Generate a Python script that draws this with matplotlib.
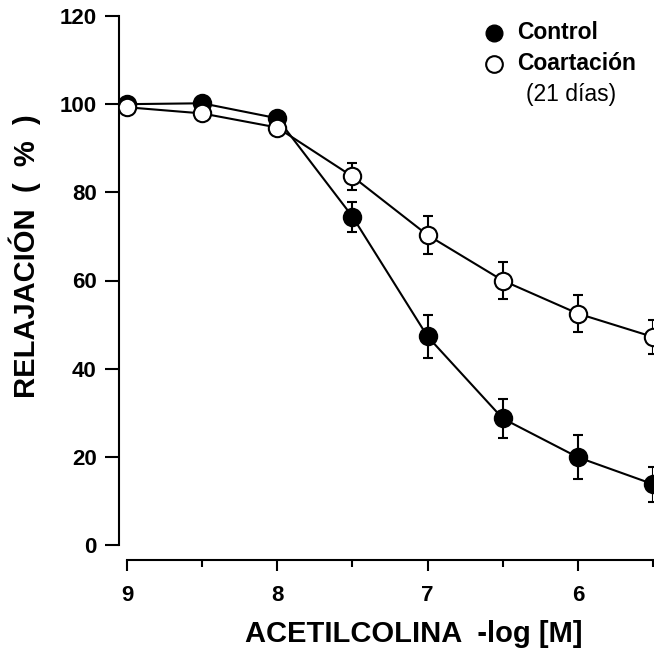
import matplotlib
matplotlib.use("Agg")
import matplotlib.pyplot as plt
import numpy as np

# -log [M] de acetilcolina
dosis = [9.0, 8.5, 8.0, 7.5, 7.0, 6.5, 6.0, 5.5]

# relajacion (%) media y error estandar
control = [100.0, 100.2, 96.8, 74.5, 47.3, 28.7, 19.9, 13.8]
control_se = [0.0, 0.0, 0.0, 3.4, 4.9, 4.5, 5.0, 4.0]
coart = [99.3, 97.9, 94.7, 83.6, 70.3, 60.0, 52.5, 47.2]
coart_se = [0.0, 0.0, 0.0, 3.1, 4.4, 4.2, 4.1, 3.8]

yticks = [0, 20, 40, 60, 80, 100, 120]
xticks = [9, 8, 7, 6]
xminor = [8.5, 7.5, 6.5, 5.5]

plt.rcParams["font.family"] = ["Liberation Sans", "DejaVu Sans"]
plt.rcParams["font.weight"] = "bold"

fig = plt.figure(figsize=(6.54, 6.58), dpi=100)
ax = fig.add_axes([119 / 654, 113 / 658, (653 - 119) / 654, (545 - 16) / 658])

ax.errorbar(dosis, control, yerr=control_se, fmt="none", ecolor="black",
            elinewidth=1.5, capsize=3.8, capthick=1.5, zorder=2)
ax.errorbar(dosis, coart, yerr=coart_se, fmt="none", ecolor="black",
            elinewidth=1.5, capsize=3.8, capthick=1.5, zorder=2)
ax.plot(dosis, control, color="black", lw=1.5, marker="o", ms=12.5,
        mfc="black", mec="black", mew=1.5, zorder=3)
ax.plot(dosis, coart, color="black", lw=1.5, marker="o", ms=12.5,
        mfc="white", mec="black", mew=1.5, zorder=4)

ax.set_xlim(9.0 + 8 / 150, 5.5)
ax.set_ylim(0, 120)

for s in ("top", "right"):
    ax.spines[s].set_visible(False)
ax.spines["bottom"].set_position(("outward", 11))
ax.spines["bottom"].set_bounds(9, 5.5)
ax.spines["left"].set_bounds(0, 120)
for s in ("bottom", "left"):
    ax.spines[s].set_linewidth(1.5)

ax.set_yticks(yticks)
ax.set_xticks(xticks)
ax.set_xticks(xminor, minor=True)
ax.tick_params(axis="y", direction="out", length=10, width=1.5, pad=6,
               labelsize=16)
ax.tick_params(axis="x", which="major", direction="out", length=8, width=1.5,
               pad=10, labelsize=16)
ax.tick_params(axis="x", which="minor", direction="out", length=5, width=1.5)

ax.set_xlabel("ACETILCOLINA  -log [M]", fontsize=21, fontweight="bold")
ax.xaxis.set_label_coords(0.552, -0.142)
ax.set_ylabel("RELAJACIÓN  (  %  )", fontsize=21, fontweight="bold")
ax.yaxis.set_label_coords(-0.147, 0.546)

# leyenda a mano (el texto "(21 días)" va sangrado debajo)
ax.plot([0.702], [0.968], transform=ax.transAxes, marker="o", ms=12,
        mfc="black", mec="black", clip_on=False)
ax.plot([0.702], [0.910], transform=ax.transAxes, marker="o", ms=12,
        mfc="white", mec="black", mew=1.5, clip_on=False)
ax.text(0.745, 0.968, "Control", transform=ax.transAxes, fontsize=16.5,
        fontweight="bold", va="center", ha="left")
ax.text(0.745, 0.910, "Coartación", transform=ax.transAxes, fontsize=16.5,
        fontweight="bold", va="center", ha="left")
ax.text(0.762, 0.852, "(21 días)", transform=ax.transAxes, fontsize=16.5,
        fontweight="normal", va="center", ha="left")

fig.savefig("out.png", dpi=100)
